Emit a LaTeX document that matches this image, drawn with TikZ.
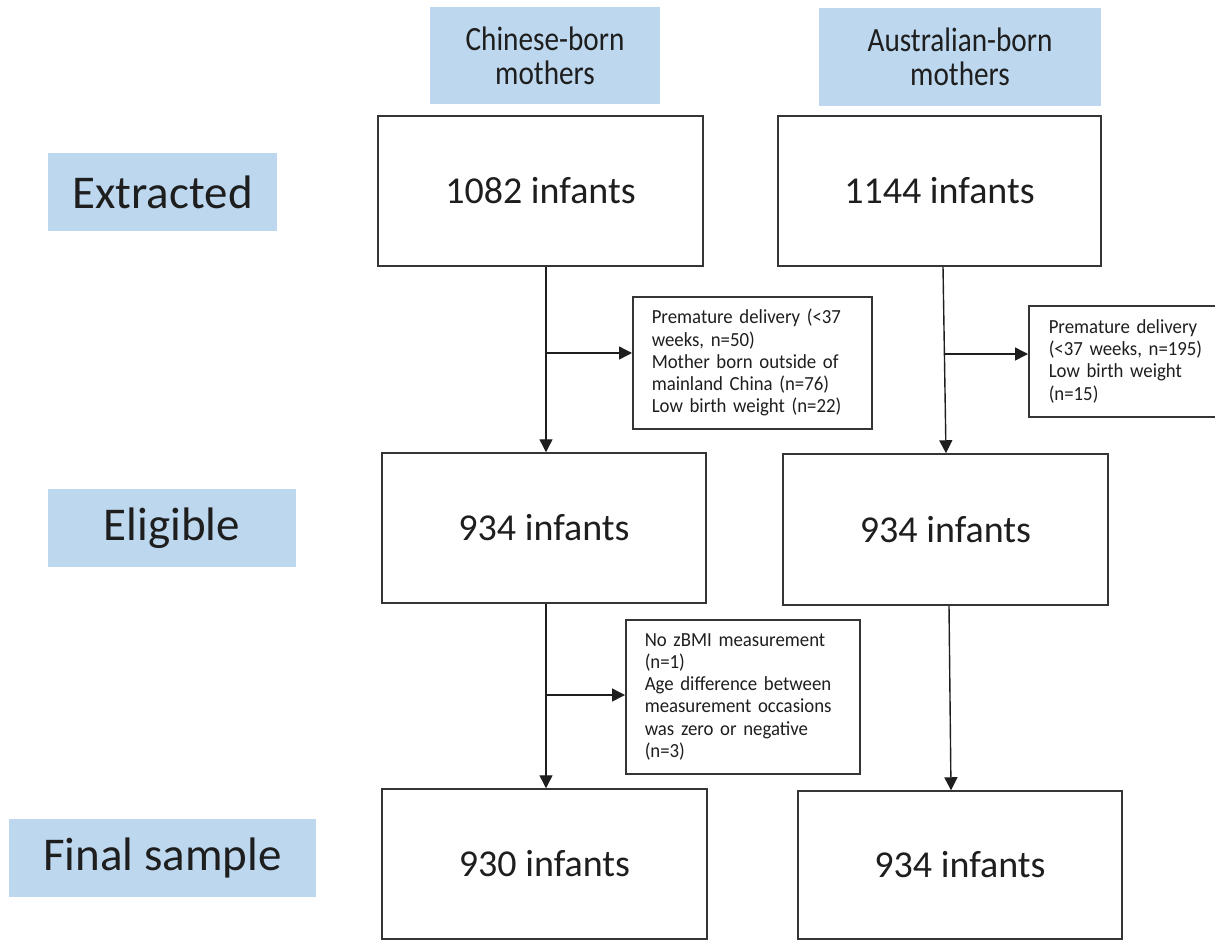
\documentclass[tikz,border=0pt]{standalone}
\usepackage{fontspec}
\setmainfont{Carlito}
\newfontfamily\headfont[FakeStretch=0.86]{Carlito}
\newfontfamily\dropfont[FakeStretch=0.94]{Carlito}
\usepackage{tikz}
\usetikzlibrary{arrows.meta,positioning}
\definecolor{ink}{HTML}{1E1E1E}
\definecolor{edge}{HTML}{353535}
\definecolor{tagcol}{HTML}{BDD7EE}

\begin{document}
\begin{tikzpicture}[
  x=1pt, y=-1pt, line join=miter,
  tagbox/.style={fill=tagcol, text=ink, inner sep=0pt, align=center},
  headtag/.style={tagbox, font=\headfont\fontsize{34}{34}\selectfont},
  stagetag/.style={tagbox, minimum height=78pt, font=\fontsize{47}{54}\selectfont},
  countbox/.style={draw=edge, line width=1.5pt, fill=white, text=ink, inner sep=0pt,
    font=\fontsize{38}{44}\selectfont},
  dropbox/.style={draw=edge, line width=1.5pt, text=ink, inner xsep=19pt, inner ysep=0pt,
    align=left, anchor=north west, font=\dropfont\fontsize{20}{22.3}\selectfont},
  flow/.style={draw=ink, line width=1.4pt, -{Triangle[length=13pt,width=13pt]}}]

\useasboundingbox (0,0) rectangle (1215,940);

% ---- column heads -------------------------------------------------------
\node[headtag, minimum width=230pt, minimum height=97pt] (cnhead) at (545,55.5) {Chinese-born\\mothers};
\node[headtag, minimum width=282pt, minimum height=98pt] (auhead) at (960,57) {Australian-born\\mothers};

% ---- stage tags ---------------------------------------------------------
\node[stagetag, minimum width=229pt] (tagext) at (162.5,192) {Extracted};
\node[stagetag, minimum width=248pt] (tagelig) at (172,528) {Eligible};
\node[stagetag, minimum width=307pt] (tagfin) at (162.5,858) {Final sample};

% ---- counts -------------------------------------------------------------
\node[countbox, minimum width=325pt, minimum height=150pt] (cnext) at (540.5,191) {1082 infants};
\node[countbox, minimum width=323pt, minimum height=150pt] (auext) at (939.5,191) {1144 infants};
\node[countbox, minimum width=324pt, minimum height=150pt] (cnelig) at (544,528) {934 infants};
\node[countbox, minimum width=325pt, minimum height=151pt] (auelig) at (945.5,529.5) {934 infants};
\node[countbox, minimum width=325pt, minimum height=150pt] (cnfin) at (544.5,864) {930 infants};
\node[countbox, minimum width=324pt, minimum height=148pt] (aufin) at (960,865) {934 infants};

% ---- exclusions ---------------------------------------------------------
\node[dropbox, text width=201pt, minimum height=132pt] (cndrop1) at (632,296)
  {Premature delivery (<37\\weeks, n=50)\\Mother born outside of\\mainland China (n=76)\\Low birth weight (n=22)};
\node[dropbox, inner xsep=20pt, text width=170pt, minimum height=111pt] (audrop1) at (1028,305)
  {Premature delivery\\(<37 weeks, n=195)\\Low birth weight\\(n=15)};
\node[dropbox, text width=196pt, minimum height=154pt] (cndrop2) at (625,619)
  {No zBMI measurement\\(n=1)\\Age difference between\\measurement occasions\\was zero or negative\\(n=3)};

% ---- flow ---------------------------------------------------------------
\coordinate (cnsplit1) at (546,353);
\coordinate (ausplit1) at (944.5,354);
\coordinate (cnsplit2) at (546,695);

\draw[flow] (cnext.south -| cnsplit1) -- (cnelig.north -| cnsplit1);
\draw[flow] (cnsplit1) -- (cndrop1.west |- cnsplit1);
\draw[flow] ([xshift=3.5pt]auext.south) -- ([xshift=0.5pt]auelig.north);
\draw[flow] (ausplit1) -- (audrop1.west |- ausplit1);
\draw[flow] (cnelig.south -| cnsplit2) -- (cnfin.north -| cnsplit2);
\draw[flow] (cnsplit2) -- (cndrop2.west |- cnsplit2);
\draw[flow] ([xshift=3.5pt]auelig.south) -- ([xshift=-9pt]aufin.north);

\end{tikzpicture}
\end{document}
